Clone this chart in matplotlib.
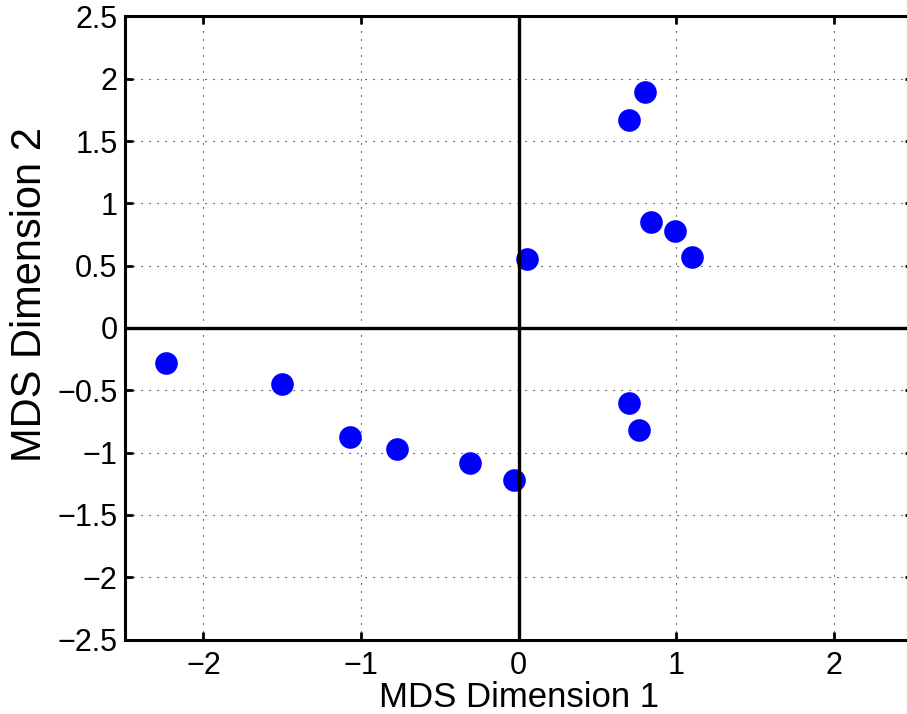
import numpy as np
import matplotlib
matplotlib.use('Agg')
import matplotlib.pyplot as plt

# MDS coordinates
dim1 = [-2.24, -1.50, -1.07, -0.77, -0.31, -0.03, 0.05, 0.70, 0.76, 0.70, 0.80, 0.84, 0.99, 1.10]
dim2 = [-0.28, -0.45, -0.875, -0.97, -1.085, -1.22, 0.555, -0.60, -0.82, 1.67, 1.895, 0.85, 0.78, 0.57]

xticks = [-2, -1, 0, 1, 2]
yticks = [-2.5, -2, -1.5, -1, -0.5, 0, 0.5, 1, 1.5, 2, 2.5]

plt.rcParams['font.family'] = ['Liberation Sans', 'DejaVu Sans']

fig = plt.figure(figsize=(9.07, 7.14), dpi=100)
ax = fig.add_axes([0.1373, 0.1043, 0.8693, 0.8727])

ax.plot(dim1, dim2, 'o', color='#0000ff', markersize=16.3, markeredgewidth=0, zorder=2)
ax.axhline(0, color='black', linewidth=2.4, zorder=3)
ax.axvline(0, color='black', linewidth=2.4, zorder=3)

ax.set_xlim(-2.5, 2.5)
ax.set_ylim(-2.5, 2.5)
ax.set_xticks(xticks)
ax.set_yticks(yticks)

def fmt(v):
    return ('%g' % v).replace('-', '\u2212')

ax.set_xticklabels([fmt(v) for v in xticks])
ax.set_yticklabels([fmt(v) for v in yticks])

ax.grid(True, linestyle=(0, (1, 6.2)), color='black', linewidth=0.8, zorder=1)
ax.tick_params(direction='in', length=6, width=2, labelsize=22,
               top=True, right=True, pad=5)
ax.tick_params(axis='x', pad=8.5)
for s in ax.spines.values():
    s.set_linewidth(2.2)

ax.set_xlabel('MDS Dimension 1', fontsize=25, labelpad=0)
ax.set_ylabel('MDS Dimension 2', fontsize=30)
ax.yaxis.set_label_coords(-0.0945, 0.553)

fig.savefig('out.png', dpi=100)
